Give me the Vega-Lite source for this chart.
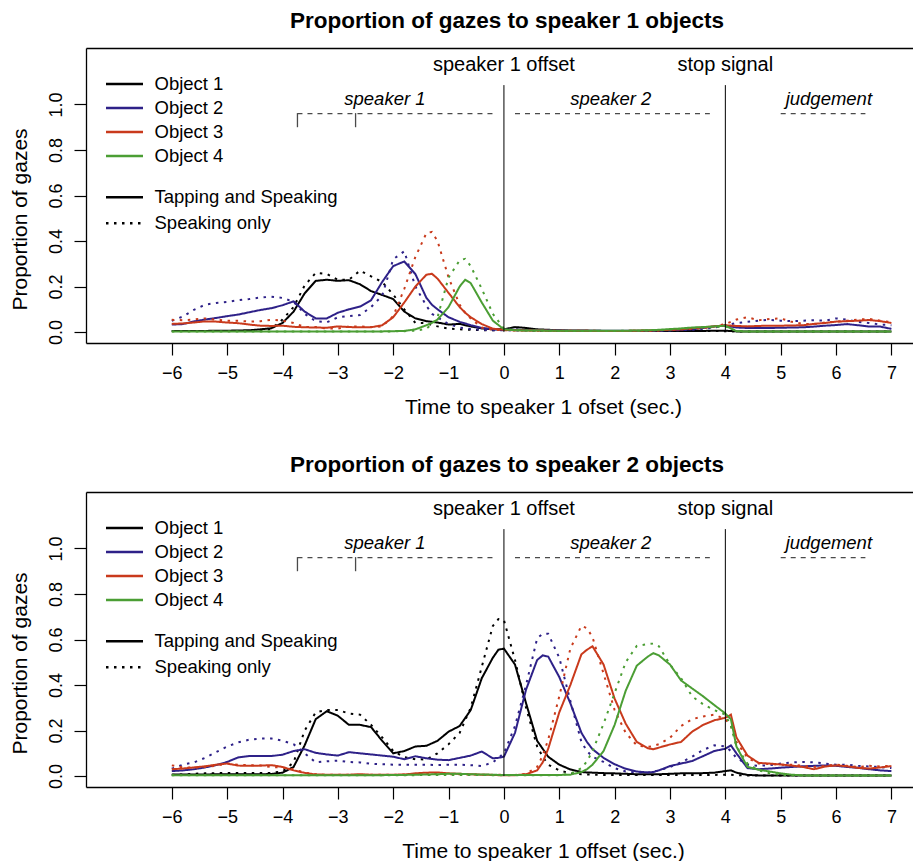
{
  "$schema": "https://vega.github.io/schema/vega-lite/v6.json",
  "padding": {"left": 9, "top": 9, "right": 0, "bottom": 0},
  "spacing": 36,
  "config": {
    "view": {"stroke": null},
    "font": "Liberation Sans",
    "title": {"font": "Liberation Sans", "fontSize": 22.5, "fontWeight": "bold", "color": "black", "anchor": "middle", "baseline": "bottom", "offset": 16, "dx": 7.5},
    "axis": {"domainColor": "black", "domainWidth": 1.3, "tickColor": "black", "tickWidth": 1.2, "tickSize": 12, "labelColor": "black", "labelFont": "Liberation Sans", "labelFontSize": 18, "titleFont": "Liberation Sans", "titleFontSize": 21, "titleFontWeight": "normal", "titleColor": "black", "grid": false, "labelFlush": false, "labelOverlap": false},
    "axisLeft": {"labelAngle": -90, "labelAlign": "center", "labelBaseline": "bottom", "labelPadding": 9, "titleX": -66, "titleY": 171, "titleBaseline": "middle", "titleAngle": -90},
    "axisBottom": {"labelPadding": 9, "titleX": 457, "titleY": 64, "titleBaseline": "middle"},
    "legend": {"orient": "none", "symbolType": "stroke", "symbolSize": 1369, "symbolStrokeWidth": 2.5, "labelFontSize": 18.5, "labelFont": "Liberation Sans", "labelColor": "black", "labelOffset": 10, "labelLimit": 400, "rowPadding": 0, "padding": 0}
  },
  "resolve": {"scale": {"color": "independent", "strokeDash": "independent"}, "legend": {"color": "independent", "strokeDash": "independent"}},
  "datasets": {
    "series": [
      {"key": "o1t", "object": "Object 1", "cond": "Tapping and Speaking"},
      {"key": "o1s", "object": "Object 1", "cond": "Speaking only"},
      {"key": "o2t", "object": "Object 2", "cond": "Tapping and Speaking"},
      {"key": "o2s", "object": "Object 2", "cond": "Speaking only"},
      {"key": "o3t", "object": "Object 3", "cond": "Tapping and Speaking"},
      {"key": "o3s", "object": "Object 3", "cond": "Speaking only"},
      {"key": "o4t", "object": "Object 4", "cond": "Tapping and Speaking"},
      {"key": "o4s", "object": "Object 4", "cond": "Speaking only"}
    ],
    "events": [
      {"x": 0, "label": "speaker 1 offset"},
      {"x": 4, "label": "stop signal"}
    ],
    "phases": [
      {"phase": "speaker 1", "start": -3.73, "end": -0.2, "mid": -2.15},
      {"phase": "speaker 2", "start": 0.2, "end": 3.72, "mid": 1.93},
      {"phase": "judgement", "start": 5.0, "end": 6.53, "mid": 5.87}
    ],
    "brackets": [{"x": -3.73}, {"x": -2.68}],
    "top": [
      {"t": -6.0, "o1t": 0.005, "o1s": 0.005, "o2t": 0.033, "o2s": 0.05, "o3t": 0.036, "o3s": 0.054, "o4t": 0.003, "o4s": 0.003},
      {"t": -5.8, "o1t": 0.005, "o1s": 0.005, "o2t": 0.035, "o2s": 0.068, "o3t": 0.038, "o3s": 0.052, "o4t": 0.003, "o4s": 0.003},
      {"t": -5.6, "o1t": 0.005, "o1s": 0.005, "o2t": 0.047, "o2s": 0.098, "o3t": 0.042, "o3s": 0.055, "o4t": 0.003, "o4s": 0.003},
      {"t": -5.4, "o1t": 0.005, "o1s": 0.005, "o2t": 0.055, "o2s": 0.12, "o3t": 0.047, "o3s": 0.06, "o4t": 0.003, "o4s": 0.003},
      {"t": -5.2, "o1t": 0.006, "o1s": 0.005, "o2t": 0.062, "o2s": 0.128, "o3t": 0.046, "o3s": 0.054, "o4t": 0.003, "o4s": 0.003},
      {"t": -5.0, "o1t": 0.006, "o1s": 0.005, "o2t": 0.07, "o2s": 0.132, "o3t": 0.042, "o3s": 0.05, "o4t": 0.003, "o4s": 0.003},
      {"t": -4.8, "o1t": 0.007, "o1s": 0.005, "o2t": 0.077, "o2s": 0.14, "o3t": 0.039, "o3s": 0.05, "o4t": 0.003, "o4s": 0.003},
      {"t": -4.6, "o1t": 0.008, "o1s": 0.005, "o2t": 0.087, "o2s": 0.145, "o3t": 0.033, "o3s": 0.046, "o4t": 0.003, "o4s": 0.003},
      {"t": -4.4, "o1t": 0.012, "o1s": 0.006, "o2t": 0.097, "o2s": 0.152, "o3t": 0.028, "o3s": 0.048, "o4t": 0.003, "o4s": 0.003},
      {"t": -4.2, "o1t": 0.017, "o1s": 0.015, "o2t": 0.105, "o2s": 0.155, "o3t": 0.027, "o3s": 0.054, "o4t": 0.003, "o4s": 0.003},
      {"t": -4.0, "o1t": 0.04, "o1s": 0.055, "o2t": 0.118, "o2s": 0.15, "o3t": 0.028, "o3s": 0.05, "o4t": 0.003, "o4s": 0.003},
      {"t": -3.8, "o1t": 0.09, "o1s": 0.11, "o2t": 0.135, "o2s": 0.133, "o3t": 0.023, "o3s": 0.04, "o4t": 0.003, "o4s": 0.003},
      {"t": -3.6, "o1t": 0.17, "o1s": 0.205, "o2t": 0.09, "o2s": 0.08, "o3t": 0.021, "o3s": 0.022, "o4t": 0.003, "o4s": 0.003},
      {"t": -3.4, "o1t": 0.225, "o1s": 0.26, "o2t": 0.06, "o2s": 0.048, "o3t": 0.02, "o3s": 0.022, "o4t": 0.003, "o4s": 0.003},
      {"t": -3.2, "o1t": 0.23, "o1s": 0.255, "o2t": 0.06, "o2s": 0.043, "o3t": 0.019, "o3s": 0.016, "o4t": 0.003, "o4s": 0.003},
      {"t": -3.0, "o1t": 0.225, "o1s": 0.23, "o2t": 0.085, "o2s": 0.065, "o3t": 0.025, "o3s": 0.015, "o4t": 0.003, "o4s": 0.003},
      {"t": -2.8, "o1t": 0.228, "o1s": 0.23, "o2t": 0.1, "o2s": 0.07, "o3t": 0.022, "o3s": 0.025, "o4t": 0.003, "o4s": 0.003},
      {"t": -2.6, "o1t": 0.21, "o1s": 0.27, "o2t": 0.112, "o2s": 0.075, "o3t": 0.021, "o3s": 0.025, "o4t": 0.003, "o4s": 0.003},
      {"t": -2.4, "o1t": 0.18, "o1s": 0.245, "o2t": 0.14, "o2s": 0.11, "o3t": 0.021, "o3s": 0.022, "o4t": 0.003, "o4s": 0.003},
      {"t": -2.2, "o1t": 0.163, "o1s": 0.22, "o2t": 0.22, "o2s": 0.16, "o3t": 0.03, "o3s": 0.025, "o4t": 0.003, "o4s": 0.003},
      {"t": -2.0, "o1t": 0.145, "o1s": 0.165, "o2t": 0.29, "o2s": 0.32, "o3t": 0.065, "o3s": 0.07, "o4t": 0.004, "o4s": 0.003},
      {"t": -1.8, "o1t": 0.09, "o1s": 0.1, "o2t": 0.31, "o2s": 0.355, "o3t": 0.13, "o3s": 0.19, "o4t": 0.005, "o4s": 0.004},
      {"t": -1.6, "o1t": 0.06, "o1s": 0.04, "o2t": 0.255, "o2s": 0.2, "o3t": 0.2, "o3s": 0.33, "o4t": 0.012, "o4s": 0.006},
      {"t": -1.4, "o1t": 0.048, "o1s": 0.04, "o2t": 0.15, "o2s": 0.115, "o3t": 0.252, "o3s": 0.435, "o4t": 0.03, "o4s": 0.015},
      {"t": -1.3, "o1t": 0.045, "o1s": 0.03, "o2t": 0.12, "o2s": 0.08, "o3t": 0.256, "o3s": 0.44, "o4t": 0.04, "o4s": 0.035},
      {"t": -1.2, "o1t": 0.042, "o1s": 0.025, "o2t": 0.1, "o2s": 0.065, "o3t": 0.235, "o3s": 0.4, "o4t": 0.055, "o4s": 0.065},
      {"t": -1.0, "o1t": 0.033, "o1s": 0.015, "o2t": 0.065, "o2s": 0.035, "o3t": 0.172, "o3s": 0.24, "o4t": 0.11, "o4s": 0.24},
      {"t": -0.8, "o1t": 0.036, "o1s": 0.012, "o2t": 0.045, "o2s": 0.02, "o3t": 0.11, "o3s": 0.12, "o4t": 0.2, "o4s": 0.315},
      {"t": -0.7, "o1t": 0.03, "o1s": 0.01, "o2t": 0.038, "o2s": 0.016, "o3t": 0.085, "o3s": 0.085, "o4t": 0.23, "o4s": 0.322},
      {"t": -0.6, "o1t": 0.025, "o1s": 0.01, "o2t": 0.03, "o2s": 0.013, "o3t": 0.065, "o3s": 0.06, "o4t": 0.215, "o4s": 0.29},
      {"t": -0.4, "o1t": 0.016, "o1s": 0.008, "o2t": 0.018, "o2s": 0.01, "o3t": 0.035, "o3s": 0.02, "o4t": 0.13, "o4s": 0.19},
      {"t": -0.2, "o1t": 0.012, "o1s": 0.008, "o2t": 0.012, "o2s": 0.008, "o3t": 0.015, "o3s": 0.01, "o4t": 0.05, "o4s": 0.08},
      {"t": 0.0, "o1t": 0.012, "o1s": 0.01, "o2t": 0.01, "o2s": 0.008, "o3t": 0.01, "o3s": 0.008, "o4t": 0.012, "o4s": 0.015},
      {"t": 0.2, "o1t": 0.022, "o1s": 0.012, "o2t": 0.01, "o2s": 0.007, "o3t": 0.008, "o3s": 0.007, "o4t": 0.008, "o4s": 0.008},
      {"t": 0.4, "o1t": 0.018, "o1s": 0.01, "o2t": 0.009, "o2s": 0.007, "o3t": 0.007, "o3s": 0.007, "o4t": 0.007, "o4s": 0.007},
      {"t": 0.6, "o1t": 0.012, "o1s": 0.006, "o2t": 0.009, "o2s": 0.006, "o3t": 0.007, "o3s": 0.006, "o4t": 0.007, "o4s": 0.006},
      {"t": 0.8, "o1t": 0.01, "o1s": 0.005, "o2t": 0.008, "o2s": 0.006, "o3t": 0.006, "o3s": 0.006, "o4t": 0.006, "o4s": 0.006},
      {"t": 1.0, "o1t": 0.008, "o1s": 0.005, "o2t": 0.008, "o2s": 0.005, "o3t": 0.006, "o3s": 0.006, "o4t": 0.006, "o4s": 0.005},
      {"t": 1.2, "o1t": 0.006, "o1s": 0.005, "o2t": 0.007, "o2s": 0.005, "o3t": 0.006, "o3s": 0.006, "o4t": 0.006, "o4s": 0.005},
      {"t": 1.4, "o1t": 0.006, "o1s": 0.005, "o2t": 0.007, "o2s": 0.005, "o3t": 0.006, "o3s": 0.006, "o4t": 0.006, "o4s": 0.005},
      {"t": 1.6, "o1t": 0.006, "o1s": 0.005, "o2t": 0.006, "o2s": 0.005, "o3t": 0.005, "o3s": 0.006, "o4t": 0.006, "o4s": 0.005},
      {"t": 1.8, "o1t": 0.005, "o1s": 0.005, "o2t": 0.006, "o2s": 0.005, "o3t": 0.005, "o3s": 0.005, "o4t": 0.006, "o4s": 0.005},
      {"t": 2.0, "o1t": 0.005, "o1s": 0.005, "o2t": 0.006, "o2s": 0.005, "o3t": 0.005, "o3s": 0.005, "o4t": 0.006, "o4s": 0.005},
      {"t": 2.2, "o1t": 0.005, "o1s": 0.005, "o2t": 0.006, "o2s": 0.005, "o3t": 0.005, "o3s": 0.005, "o4t": 0.006, "o4s": 0.006},
      {"t": 2.4, "o1t": 0.005, "o1s": 0.005, "o2t": 0.006, "o2s": 0.005, "o3t": 0.006, "o3s": 0.006, "o4t": 0.007, "o4s": 0.006},
      {"t": 2.6, "o1t": 0.005, "o1s": 0.005, "o2t": 0.006, "o2s": 0.005, "o3t": 0.007, "o3s": 0.006, "o4t": 0.008, "o4s": 0.007},
      {"t": 2.8, "o1t": 0.005, "o1s": 0.005, "o2t": 0.007, "o2s": 0.006, "o3t": 0.008, "o3s": 0.007, "o4t": 0.01, "o4s": 0.008},
      {"t": 3.0, "o1t": 0.005, "o1s": 0.005, "o2t": 0.008, "o2s": 0.007, "o3t": 0.01, "o3s": 0.01, "o4t": 0.013, "o4s": 0.011},
      {"t": 3.2, "o1t": 0.005, "o1s": 0.005, "o2t": 0.01, "o2s": 0.008, "o3t": 0.012, "o3s": 0.012, "o4t": 0.016, "o4s": 0.014},
      {"t": 3.4, "o1t": 0.005, "o1s": 0.005, "o2t": 0.012, "o2s": 0.01, "o3t": 0.017, "o3s": 0.014, "o4t": 0.02, "o4s": 0.018},
      {"t": 3.6, "o1t": 0.005, "o1s": 0.005, "o2t": 0.018, "o2s": 0.014, "o3t": 0.021, "o3s": 0.017, "o4t": 0.022, "o4s": 0.02},
      {"t": 3.8, "o1t": 0.006, "o1s": 0.005, "o2t": 0.025, "o2s": 0.02, "o3t": 0.025, "o3s": 0.025, "o4t": 0.025, "o4s": 0.022},
      {"t": 4.0, "o1t": 0.006, "o1s": 0.004, "o2t": 0.028, "o2s": 0.03, "o3t": 0.03, "o3s": 0.035, "o4t": 0.028, "o4s": 0.025},
      {"t": 4.2, "o1t": 0.003, "o1s": 0.003, "o2t": 0.02, "o2s": 0.04, "o3t": 0.027, "o3s": 0.055, "o4t": 0.004, "o4s": 0.005},
      {"t": 4.4, "o1t": 0.002, "o1s": 0.002, "o2t": 0.018, "o2s": 0.045, "o3t": 0.025, "o3s": 0.065, "o4t": 0.002, "o4s": 0.003},
      {"t": 4.6, "o1t": 0.002, "o1s": 0.002, "o2t": 0.018, "o2s": 0.05, "o3t": 0.027, "o3s": 0.052, "o4t": 0.002, "o4s": 0.003},
      {"t": 4.8, "o1t": 0.002, "o1s": 0.002, "o2t": 0.018, "o2s": 0.054, "o3t": 0.028, "o3s": 0.058, "o4t": 0.002, "o4s": 0.003},
      {"t": 5.0, "o1t": 0.002, "o1s": 0.002, "o2t": 0.019, "o2s": 0.05, "o3t": 0.028, "o3s": 0.06, "o4t": 0.002, "o4s": 0.003},
      {"t": 5.2, "o1t": 0.002, "o1s": 0.002, "o2t": 0.02, "o2s": 0.048, "o3t": 0.029, "o3s": 0.045, "o4t": 0.002, "o4s": 0.003},
      {"t": 5.4, "o1t": 0.002, "o1s": 0.002, "o2t": 0.021, "o2s": 0.05, "o3t": 0.03, "o3s": 0.036, "o4t": 0.002, "o4s": 0.003},
      {"t": 5.6, "o1t": 0.002, "o1s": 0.002, "o2t": 0.024, "o2s": 0.052, "o3t": 0.036, "o3s": 0.035, "o4t": 0.002, "o4s": 0.003},
      {"t": 5.8, "o1t": 0.002, "o1s": 0.002, "o2t": 0.028, "o2s": 0.05, "o3t": 0.04, "o3s": 0.042, "o4t": 0.002, "o4s": 0.003},
      {"t": 6.0, "o1t": 0.002, "o1s": 0.002, "o2t": 0.031, "o2s": 0.06, "o3t": 0.046, "o3s": 0.046, "o4t": 0.002, "o4s": 0.003},
      {"t": 6.2, "o1t": 0.002, "o1s": 0.002, "o2t": 0.035, "o2s": 0.055, "o3t": 0.048, "o3s": 0.05, "o4t": 0.002, "o4s": 0.003},
      {"t": 6.4, "o1t": 0.002, "o1s": 0.002, "o2t": 0.03, "o2s": 0.045, "o3t": 0.05, "o3s": 0.055, "o4t": 0.002, "o4s": 0.003},
      {"t": 6.6, "o1t": 0.002, "o1s": 0.002, "o2t": 0.024, "o2s": 0.04, "o3t": 0.053, "o3s": 0.058, "o4t": 0.002, "o4s": 0.003},
      {"t": 6.8, "o1t": 0.002, "o1s": 0.002, "o2t": 0.024, "o2s": 0.033, "o3t": 0.048, "o3s": 0.05, "o4t": 0.002, "o4s": 0.003},
      {"t": 7.0, "o1t": 0.002, "o1s": 0.002, "o2t": 0.014, "o2s": 0.03, "o3t": 0.04, "o3s": 0.043, "o4t": 0.002, "o4s": 0.003}
    ],
    "bottom": [
      {"t": -6.0, "o1t": 0.007, "o1s": 0.005, "o2t": 0.022, "o2s": 0.032, "o3t": 0.03, "o3s": 0.047, "o4t": 0.004, "o4s": 0.004},
      {"t": -5.8, "o1t": 0.007, "o1s": 0.007, "o2t": 0.025, "o2s": 0.05, "o3t": 0.033, "o3s": 0.038, "o4t": 0.004, "o4s": 0.004},
      {"t": -5.6, "o1t": 0.007, "o1s": 0.01, "o2t": 0.03, "o2s": 0.06, "o3t": 0.038, "o3s": 0.037, "o4t": 0.004, "o4s": 0.004},
      {"t": -5.4, "o1t": 0.007, "o1s": 0.012, "o2t": 0.038, "o2s": 0.08, "o3t": 0.043, "o3s": 0.04, "o4t": 0.004, "o4s": 0.004},
      {"t": -5.2, "o1t": 0.008, "o1s": 0.013, "o2t": 0.048, "o2s": 0.105, "o3t": 0.05, "o3s": 0.045, "o4t": 0.004, "o4s": 0.004},
      {"t": -5.0, "o1t": 0.008, "o1s": 0.014, "o2t": 0.062, "o2s": 0.13, "o3t": 0.055, "o3s": 0.055, "o4t": 0.004, "o4s": 0.004},
      {"t": -4.8, "o1t": 0.008, "o1s": 0.014, "o2t": 0.082, "o2s": 0.148, "o3t": 0.046, "o3s": 0.05, "o4t": 0.004, "o4s": 0.004},
      {"t": -4.6, "o1t": 0.008, "o1s": 0.014, "o2t": 0.088, "o2s": 0.16, "o3t": 0.045, "o3s": 0.048, "o4t": 0.004, "o4s": 0.004},
      {"t": -4.4, "o1t": 0.008, "o1s": 0.014, "o2t": 0.088, "o2s": 0.165, "o3t": 0.046, "o3s": 0.046, "o4t": 0.004, "o4s": 0.004},
      {"t": -4.2, "o1t": 0.009, "o1s": 0.014, "o2t": 0.088, "o2s": 0.165, "o3t": 0.048, "o3s": 0.04, "o4t": 0.004, "o4s": 0.004},
      {"t": -4.0, "o1t": 0.015, "o1s": 0.02, "o2t": 0.094, "o2s": 0.155, "o3t": 0.04, "o3s": 0.037, "o4t": 0.004, "o4s": 0.004},
      {"t": -3.8, "o1t": 0.04, "o1s": 0.06, "o2t": 0.11, "o2s": 0.14, "o3t": 0.025, "o3s": 0.03, "o4t": 0.004, "o4s": 0.004},
      {"t": -3.6, "o1t": 0.135, "o1s": 0.2, "o2t": 0.118, "o2s": 0.1, "o3t": 0.014, "o3s": 0.015, "o4t": 0.004, "o4s": 0.004},
      {"t": -3.4, "o1t": 0.25, "o1s": 0.28, "o2t": 0.102, "o2s": 0.06, "o3t": 0.007, "o3s": 0.008, "o4t": 0.004, "o4s": 0.004},
      {"t": -3.2, "o1t": 0.285, "o1s": 0.29, "o2t": 0.095, "o2s": 0.065, "o3t": 0.006, "o3s": 0.006, "o4t": 0.004, "o4s": 0.004},
      {"t": -3.0, "o1t": 0.265, "o1s": 0.29, "o2t": 0.09, "o2s": 0.068, "o3t": 0.006, "o3s": 0.006, "o4t": 0.004, "o4s": 0.004},
      {"t": -2.8, "o1t": 0.225, "o1s": 0.275, "o2t": 0.105, "o2s": 0.062, "o3t": 0.006, "o3s": 0.006, "o4t": 0.004, "o4s": 0.004},
      {"t": -2.6, "o1t": 0.225, "o1s": 0.27, "o2t": 0.1, "o2s": 0.06, "o3t": 0.008, "o3s": 0.006, "o4t": 0.004, "o4s": 0.004},
      {"t": -2.4, "o1t": 0.215, "o1s": 0.225, "o2t": 0.095, "o2s": 0.054, "o3t": 0.006, "o3s": 0.006, "o4t": 0.004, "o4s": 0.004},
      {"t": -2.2, "o1t": 0.155, "o1s": 0.17, "o2t": 0.09, "o2s": 0.052, "o3t": 0.006, "o3s": 0.006, "o4t": 0.004, "o4s": 0.004},
      {"t": -2.0, "o1t": 0.1, "o1s": 0.11, "o2t": 0.085, "o2s": 0.05, "o3t": 0.006, "o3s": 0.006, "o4t": 0.005, "o4s": 0.004},
      {"t": -1.8, "o1t": 0.11, "o1s": 0.083, "o2t": 0.074, "o2s": 0.05, "o3t": 0.007, "o3s": 0.007, "o4t": 0.005, "o4s": 0.004},
      {"t": -1.6, "o1t": 0.13, "o1s": 0.074, "o2t": 0.087, "o2s": 0.05, "o3t": 0.012, "o3s": 0.008, "o4t": 0.006, "o4s": 0.004},
      {"t": -1.4, "o1t": 0.133, "o1s": 0.073, "o2t": 0.078, "o2s": 0.05, "o3t": 0.015, "o3s": 0.01, "o4t": 0.007, "o4s": 0.005},
      {"t": -1.2, "o1t": 0.155, "o1s": 0.1, "o2t": 0.072, "o2s": 0.048, "o3t": 0.016, "o3s": 0.01, "o4t": 0.008, "o4s": 0.005},
      {"t": -1.0, "o1t": 0.195, "o1s": 0.14, "o2t": 0.07, "o2s": 0.05, "o3t": 0.012, "o3s": 0.008, "o4t": 0.01, "o4s": 0.005},
      {"t": -0.8, "o1t": 0.22, "o1s": 0.19, "o2t": 0.08, "o2s": 0.05, "o3t": 0.01, "o3s": 0.008, "o4t": 0.01, "o4s": 0.005},
      {"t": -0.6, "o1t": 0.29, "o1s": 0.3, "o2t": 0.09, "o2s": 0.048, "o3t": 0.008, "o3s": 0.007, "o4t": 0.008, "o4s": 0.005},
      {"t": -0.4, "o1t": 0.43, "o1s": 0.48, "o2t": 0.108, "o2s": 0.044, "o3t": 0.006, "o3s": 0.006, "o4t": 0.007, "o4s": 0.005},
      {"t": -0.2, "o1t": 0.52, "o1s": 0.66, "o2t": 0.078, "o2s": 0.06, "o3t": 0.005, "o3s": 0.006, "o4t": 0.006, "o4s": 0.004},
      {"t": -0.1, "o1t": 0.555, "o1s": 0.69, "o2t": 0.08, "o2s": 0.08, "o3t": 0.004, "o3s": 0.006, "o4t": 0.005, "o4s": 0.004},
      {"t": 0.0, "o1t": 0.56, "o1s": 0.685, "o2t": 0.085, "o2s": 0.1, "o3t": 0.004, "o3s": 0.005, "o4t": 0.005, "o4s": 0.004},
      {"t": 0.2, "o1t": 0.49, "o1s": 0.51, "o2t": 0.19, "o2s": 0.22, "o3t": 0.004, "o3s": 0.005, "o4t": 0.005, "o4s": 0.004},
      {"t": 0.4, "o1t": 0.32, "o1s": 0.3, "o2t": 0.38, "o2s": 0.4, "o3t": 0.008, "o3s": 0.01, "o4t": 0.005, "o4s": 0.004},
      {"t": 0.6, "o1t": 0.155, "o1s": 0.13, "o2t": 0.51, "o2s": 0.605, "o3t": 0.025, "o3s": 0.04, "o4t": 0.005, "o4s": 0.004},
      {"t": 0.7, "o1t": 0.12, "o1s": 0.085, "o2t": 0.53, "o2s": 0.625, "o3t": 0.06, "o3s": 0.09, "o4t": 0.005, "o4s": 0.004},
      {"t": 0.8, "o1t": 0.085, "o1s": 0.05, "o2t": 0.525, "o2s": 0.625, "o3t": 0.12, "o3s": 0.16, "o4t": 0.005, "o4s": 0.004},
      {"t": 1.0, "o1t": 0.05, "o1s": 0.025, "o2t": 0.435, "o2s": 0.52, "o3t": 0.28, "o3s": 0.35, "o4t": 0.005, "o4s": 0.004},
      {"t": 1.2, "o1t": 0.029, "o1s": 0.012, "o2t": 0.32, "o2s": 0.33, "o3t": 0.4, "o3s": 0.56, "o4t": 0.006, "o4s": 0.01},
      {"t": 1.4, "o1t": 0.018, "o1s": 0.008, "o2t": 0.19, "o2s": 0.15, "o3t": 0.535, "o3s": 0.66, "o4t": 0.018, "o4s": 0.035},
      {"t": 1.5, "o1t": 0.016, "o1s": 0.007, "o2t": 0.15, "o2s": 0.11, "o3t": 0.555, "o3s": 0.65, "o4t": 0.03, "o4s": 0.065},
      {"t": 1.6, "o1t": 0.015, "o1s": 0.006, "o2t": 0.118, "o2s": 0.085, "o3t": 0.57, "o3s": 0.61, "o4t": 0.05, "o4s": 0.11},
      {"t": 1.8, "o1t": 0.013, "o1s": 0.005, "o2t": 0.08, "o2s": 0.062, "o3t": 0.49, "o3s": 0.45, "o4t": 0.11, "o4s": 0.23},
      {"t": 2.0, "o1t": 0.012, "o1s": 0.005, "o2t": 0.052, "o2s": 0.035, "o3t": 0.34, "o3s": 0.29, "o4t": 0.225, "o4s": 0.365},
      {"t": 2.2, "o1t": 0.01, "o1s": 0.005, "o2t": 0.032, "o2s": 0.02, "o3t": 0.23, "o3s": 0.19, "o4t": 0.375, "o4s": 0.5},
      {"t": 2.4, "o1t": 0.008, "o1s": 0.005, "o2t": 0.02, "o2s": 0.016, "o3t": 0.15, "o3s": 0.135, "o4t": 0.485, "o4s": 0.572},
      {"t": 2.6, "o1t": 0.008, "o1s": 0.005, "o2t": 0.016, "o2s": 0.016, "o3t": 0.122, "o3s": 0.128, "o4t": 0.525, "o4s": 0.58},
      {"t": 2.7, "o1t": 0.008, "o1s": 0.005, "o2t": 0.018, "o2s": 0.02, "o3t": 0.118, "o3s": 0.132, "o4t": 0.54, "o4s": 0.582},
      {"t": 2.8, "o1t": 0.008, "o1s": 0.005, "o2t": 0.025, "o2s": 0.025, "o3t": 0.125, "o3s": 0.14, "o4t": 0.53, "o4s": 0.57},
      {"t": 3.0, "o1t": 0.01, "o1s": 0.005, "o2t": 0.044, "o2s": 0.04, "o3t": 0.139, "o3s": 0.168, "o4t": 0.49, "o4s": 0.49},
      {"t": 3.2, "o1t": 0.012, "o1s": 0.005, "o2t": 0.055, "o2s": 0.06, "o3t": 0.15, "o3s": 0.22, "o4t": 0.42, "o4s": 0.43},
      {"t": 3.4, "o1t": 0.012, "o1s": 0.005, "o2t": 0.066, "o2s": 0.085, "o3t": 0.195, "o3s": 0.25, "o4t": 0.385, "o4s": 0.35},
      {"t": 3.6, "o1t": 0.013, "o1s": 0.005, "o2t": 0.088, "o2s": 0.115, "o3t": 0.225, "o3s": 0.262, "o4t": 0.35, "o4s": 0.315},
      {"t": 3.8, "o1t": 0.015, "o1s": 0.005, "o2t": 0.11, "o2s": 0.135, "o3t": 0.245, "o3s": 0.27, "o4t": 0.312, "o4s": 0.29},
      {"t": 4.0, "o1t": 0.022, "o1s": 0.006, "o2t": 0.12, "o2s": 0.13, "o3t": 0.256, "o3s": 0.25, "o4t": 0.275, "o4s": 0.27},
      {"t": 4.1, "o1t": 0.025, "o1s": 0.006, "o2t": 0.135, "o2s": 0.11, "o3t": 0.27, "o3s": 0.22, "o4t": 0.25, "o4s": 0.22},
      {"t": 4.2, "o1t": 0.015, "o1s": 0.004, "o2t": 0.1, "o2s": 0.08, "o3t": 0.17, "o3s": 0.15, "o4t": 0.13, "o4s": 0.13},
      {"t": 4.4, "o1t": 0.005, "o1s": 0.003, "o2t": 0.035, "o2s": 0.05, "o3t": 0.09, "o3s": 0.08, "o4t": 0.04, "o4s": 0.055},
      {"t": 4.6, "o1t": 0.003, "o1s": 0.002, "o2t": 0.03, "o2s": 0.045, "o3t": 0.058, "o3s": 0.055, "o4t": 0.028, "o4s": 0.025},
      {"t": 4.8, "o1t": 0.002, "o1s": 0.002, "o2t": 0.033, "o2s": 0.048, "o3t": 0.055, "o3s": 0.053, "o4t": 0.02, "o4s": 0.012},
      {"t": 5.0, "o1t": 0.002, "o1s": 0.002, "o2t": 0.037, "o2s": 0.055, "o3t": 0.051, "o3s": 0.05, "o4t": 0.012, "o4s": 0.006},
      {"t": 5.2, "o1t": 0.002, "o1s": 0.002, "o2t": 0.04, "o2s": 0.06, "o3t": 0.046, "o3s": 0.05, "o4t": 0.006, "o4s": 0.003},
      {"t": 5.4, "o1t": 0.002, "o1s": 0.002, "o2t": 0.043, "o2s": 0.062, "o3t": 0.04, "o3s": 0.045, "o4t": 0.003, "o4s": 0.003},
      {"t": 5.6, "o1t": 0.002, "o1s": 0.002, "o2t": 0.045, "o2s": 0.06, "o3t": 0.03, "o3s": 0.04, "o4t": 0.003, "o4s": 0.003},
      {"t": 5.8, "o1t": 0.002, "o1s": 0.002, "o2t": 0.047, "o2s": 0.055, "o3t": 0.042, "o3s": 0.045, "o4t": 0.003, "o4s": 0.003},
      {"t": 6.0, "o1t": 0.002, "o1s": 0.002, "o2t": 0.045, "o2s": 0.05, "o3t": 0.047, "o3s": 0.05, "o4t": 0.003, "o4s": 0.003},
      {"t": 6.2, "o1t": 0.002, "o1s": 0.002, "o2t": 0.04, "o2s": 0.05, "o3t": 0.043, "o3s": 0.045, "o4t": 0.003, "o4s": 0.003},
      {"t": 6.4, "o1t": 0.002, "o1s": 0.002, "o2t": 0.036, "o2s": 0.045, "o3t": 0.036, "o3s": 0.04, "o4t": 0.003, "o4s": 0.003},
      {"t": 6.6, "o1t": 0.002, "o1s": 0.002, "o2t": 0.03, "o2s": 0.042, "o3t": 0.033, "o3s": 0.045, "o4t": 0.003, "o4s": 0.003},
      {"t": 6.8, "o1t": 0.002, "o1s": 0.002, "o2t": 0.025, "o2s": 0.04, "o3t": 0.038, "o3s": 0.042, "o4t": 0.003, "o4s": 0.003},
      {"t": 7.0, "o1t": 0.002, "o1s": 0.002, "o2t": 0.022, "o2s": 0.035, "o3t": 0.044, "o3s": 0.046, "o4t": 0.003, "o4s": 0.003}
    ]
  },
  "vconcat": [
    {
      "title": "Proportion of gazes to speaker 1 objects",
      "width": 827,
      "height": 295,
      "layer": [
        {
          "data": {"name": "top"},
          "transform": [
            {"fold": ["o1t", "o1s", "o2t", "o2s", "o3t", "o3s", "o4t", "o4s"], "as": ["key", "v"]},
            {"lookup": "key", "from": {"data": {"name": "series"}, "key": "key", "fields": ["object", "cond"]}}
          ],
          "mark": {"type": "line", "strokeWidth": 2},
          "encoding": {
            "x": {"field": "t", "type": "quantitative", "scale": {"domain": [-7.55, 7.39], "nice": false, "zero": false},
                  "axis": {"orient": "bottom", "values": [-6, -5, -4, -3, -2, -1, 0, 1, 2, 3, 4, 5, 6, 7], "format": "d", "title": "Time to speaker 1 ofset (sec.)"}},
            "y": {"field": "v", "type": "quantitative", "scale": {"domain": [-0.048, 1.248], "nice": false, "zero": false},
                  "axis": {"orient": "left", "values": [0, 0.2, 0.4, 0.6, 0.8, 1], "format": ".1f", "title": "Proportion of gazes"}},
            "color": {"field": "object", "type": "nominal", "scale": {"domain": ["Object 1", "Object 2", "Object 3", "Object 4"], "range": ["#000000", "#2e2188", "#c93a1c", "#4b9e34"]},
                      "legend": {"title": null, "legendX": 18.5, "legendY": 24, "clipHeight": 24}},
            "strokeDash": {"field": "cond", "type": "nominal", "scale": {"domain": ["Tapping and Speaking", "Speaking only"], "range": [[1, 0], [2.5, 5.5]]},
                           "legend": {"title": null, "legendX": 18.5, "legendY": 136.5, "clipHeight": 25.5, "symbolStrokeColor": "black"}},
            "detail": {"field": "key"}
          }
        },
        {
          "data": {"name": "events"},
          "mark": {"type": "rule", "color": "black", "strokeWidth": 1},
          "encoding": {
            "x": {"field": "x", "type": "quantitative", "scale": {"domain": [-7.55, 7.39], "nice": false, "zero": false},
                  "axis": {"orient": "top", "ticks": false, "labels": false, "title": null, "domain": true}},
            "y": {"datum": 0, "type": "quantitative", "scale": {"domain": [-0.048, 1.248], "nice": false, "zero": false},
                  "axis": {"orient": "left", "values": [0, 0.2, 0.4, 0.6, 0.8, 1], "format": ".1f", "title": "Proportion of gazes"}},
            "y2": {"datum": 1.085}
          }
        },
        {
          "data": {"name": "events"},
          "mark": {"type": "text", "fontSize": 20, "font": "Liberation Sans", "color": "black", "align": "center", "baseline": "middle"},
          "encoding": {
            "x": {"field": "x", "type": "quantitative", "axis": null},
            "y": {"datum": 1.175, "type": "quantitative", "axis": {"orient": "left", "values": [0, 0.2, 0.4, 0.6, 0.8, 1], "format": ".1f", "title": "Proportion of gazes"}},
            "text": {"field": "label"}
          }
        },
        {
          "data": {"name": "phases"},
          "mark": {"type": "rule", "color": "#4a4a4a", "strokeWidth": 1.3, "strokeDash": [5, 5]},
          "encoding": {
            "x": {"field": "start", "type": "quantitative", "axis": null},
            "x2": {"field": "end"},
            "y": {"datum": 0.96, "type": "quantitative", "axis": {"orient": "left", "values": [0, 0.2, 0.4, 0.6, 0.8, 1], "format": ".1f", "title": "Proportion of gazes"}}
          }
        },
        {
          "data": {"name": "brackets"},
          "mark": {"type": "rule", "color": "#4a4a4a", "strokeWidth": 1.3},
          "encoding": {
            "x": {"field": "x", "type": "quantitative", "axis": null},
            "y": {"datum": 0.9, "type": "quantitative", "axis": {"orient": "left", "values": [0, 0.2, 0.4, 0.6, 0.8, 1], "format": ".1f", "title": "Proportion of gazes"}},
            "y2": {"datum": 0.962}
          }
        },
        {
          "data": {"name": "phases"},
          "mark": {"type": "text", "fontSize": 18.5, "font": "Liberation Sans", "fontStyle": "italic", "color": "black", "align": "center", "baseline": "middle"},
          "encoding": {
            "x": {"field": "mid", "type": "quantitative", "axis": null},
            "y": {"datum": 1.025, "type": "quantitative", "axis": {"orient": "left", "values": [0, 0.2, 0.4, 0.6, 0.8, 1], "format": ".1f", "title": "Proportion of gazes"}},
            "text": {"field": "phase"}
          }
        }
      ]
    },
    {
      "title": "Proportion of gazes to speaker 2 objects",
      "width": 827,
      "height": 295,
      "layer": [
        {
          "data": {"name": "bottom"},
          "transform": [
            {"fold": ["o1t", "o1s", "o2t", "o2s", "o3t", "o3s", "o4t", "o4s"], "as": ["key", "v"]},
            {"lookup": "key", "from": {"data": {"name": "series"}, "key": "key", "fields": ["object", "cond"]}}
          ],
          "mark": {"type": "line", "strokeWidth": 2},
          "encoding": {
            "x": {"field": "t", "type": "quantitative", "scale": {"domain": [-7.55, 7.39], "nice": false, "zero": false},
                  "axis": {"orient": "bottom", "values": [-6, -5, -4, -3, -2, -1, 0, 1, 2, 3, 4, 5, 6, 7], "format": "d", "title": "Time to speaker 1 offset (sec.)"}},
            "y": {"field": "v", "type": "quantitative", "scale": {"domain": [-0.048, 1.248], "nice": false, "zero": false},
                  "axis": {"orient": "left", "values": [0, 0.2, 0.4, 0.6, 0.8, 1], "format": ".1f", "title": "Proportion of gazes"}},
            "color": {"field": "object", "type": "nominal", "scale": {"domain": ["Object 1", "Object 2", "Object 3", "Object 4"], "range": ["#000000", "#2e2188", "#c93a1c", "#4b9e34"]},
                      "legend": {"title": null, "legendX": 18.5, "legendY": 24, "clipHeight": 24}},
            "strokeDash": {"field": "cond", "type": "nominal", "scale": {"domain": ["Tapping and Speaking", "Speaking only"], "range": [[1, 0], [2.5, 5.5]]},
                           "legend": {"title": null, "legendX": 18.5, "legendY": 136.5, "clipHeight": 25.5, "symbolStrokeColor": "black"}},
            "detail": {"field": "key"}
          }
        },
        {
          "data": {"name": "events"},
          "mark": {"type": "rule", "color": "black", "strokeWidth": 1},
          "encoding": {
            "x": {"field": "x", "type": "quantitative", "scale": {"domain": [-7.55, 7.39], "nice": false, "zero": false},
                  "axis": {"orient": "top", "ticks": false, "labels": false, "title": null, "domain": true}},
            "y": {"datum": 0, "type": "quantitative", "scale": {"domain": [-0.048, 1.248], "nice": false, "zero": false},
                  "axis": {"orient": "left", "values": [0, 0.2, 0.4, 0.6, 0.8, 1], "format": ".1f", "title": "Proportion of gazes"}},
            "y2": {"datum": 1.085}
          }
        },
        {
          "data": {"name": "events"},
          "mark": {"type": "text", "fontSize": 20, "font": "Liberation Sans", "color": "black", "align": "center", "baseline": "middle"},
          "encoding": {
            "x": {"field": "x", "type": "quantitative", "axis": null},
            "y": {"datum": 1.175, "type": "quantitative", "axis": {"orient": "left", "values": [0, 0.2, 0.4, 0.6, 0.8, 1], "format": ".1f", "title": "Proportion of gazes"}},
            "text": {"field": "label"}
          }
        },
        {
          "data": {"name": "phases"},
          "mark": {"type": "rule", "color": "#4a4a4a", "strokeWidth": 1.3, "strokeDash": [5, 5]},
          "encoding": {
            "x": {"field": "start", "type": "quantitative", "axis": null},
            "x2": {"field": "end"},
            "y": {"datum": 0.96, "type": "quantitative", "axis": {"orient": "left", "values": [0, 0.2, 0.4, 0.6, 0.8, 1], "format": ".1f", "title": "Proportion of gazes"}}
          }
        },
        {
          "data": {"name": "brackets"},
          "mark": {"type": "rule", "color": "#4a4a4a", "strokeWidth": 1.3},
          "encoding": {
            "x": {"field": "x", "type": "quantitative", "axis": null},
            "y": {"datum": 0.9, "type": "quantitative", "axis": {"orient": "left", "values": [0, 0.2, 0.4, 0.6, 0.8, 1], "format": ".1f", "title": "Proportion of gazes"}},
            "y2": {"datum": 0.962}
          }
        },
        {
          "data": {"name": "phases"},
          "mark": {"type": "text", "fontSize": 18.5, "font": "Liberation Sans", "fontStyle": "italic", "color": "black", "align": "center", "baseline": "middle"},
          "encoding": {
            "x": {"field": "mid", "type": "quantitative", "axis": null},
            "y": {"datum": 1.025, "type": "quantitative", "axis": {"orient": "left", "values": [0, 0.2, 0.4, 0.6, 0.8, 1], "format": ".1f", "title": "Proportion of gazes"}},
            "text": {"field": "phase"}
          }
        }
      ]
    }
  ]
}
